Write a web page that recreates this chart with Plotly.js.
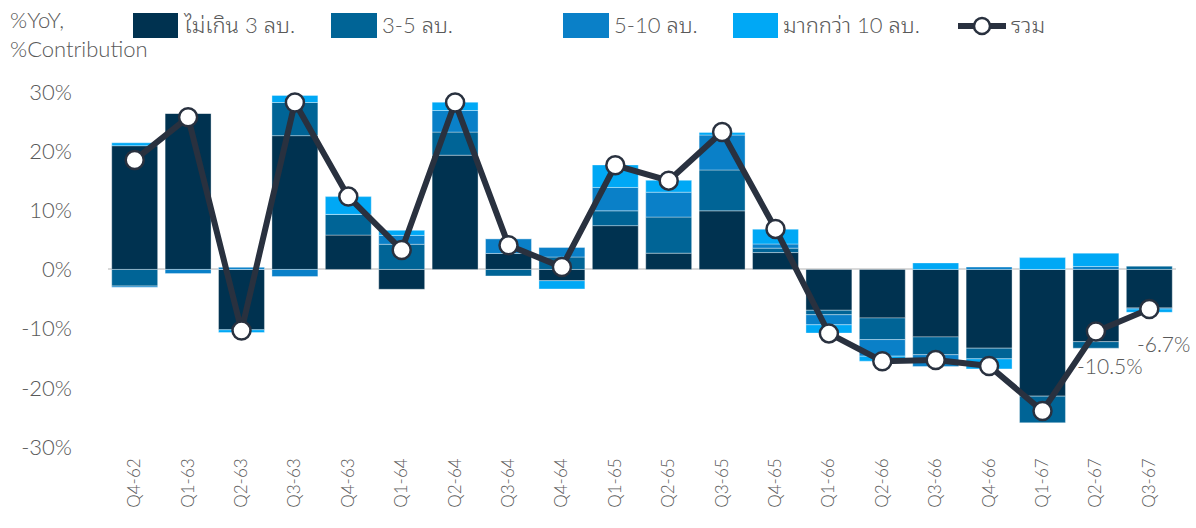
<!DOCTYPE html>
<html>
<head>
<meta charset="utf-8">
<script src="https://cdn.plot.ly/plotly-3.0.1.min.js"></script>
<style>html,body{margin:0;padding:0;background:#fff;}#chart{width:1196px;height:528px;}</style>
</head>
<body>
<div id="chart"></div>
<script>
// ---- data ----
const categories = ["Q4-62","Q1-63","Q2-63","Q3-63","Q4-63","Q1-64","Q2-64","Q3-64","Q4-64","Q1-65","Q2-65","Q3-65","Q4-65","Q1-66","Q2-66","Q3-66","Q4-66","Q1-67","Q2-67","Q3-67"];
const seriesNames = ["ไม่เกิน 3 ลบ.","3-5 ลบ.","5-10 ลบ.","มากกว่า 10 ลบ.","รวม"];
const upTo3   = [20.9, 26.4, -10.2, 22.6, 5.8, -3.35, 19.3, 2.7, -1.9, 7.4, 2.75, 9.9, 2.85, -6.9, -8.2, -11.4, -13.3, -21.4, -12.2, -6.5];
const from3to5 = [-2.8, 0, 0, 5.6, 3.5, 4.25, 3.9, -1.1, 2.1, 2.5, 6.1, 6.9, 0.75, -0.75, -3.65, -3.0, -1.8, -4.5, -1.1, 0.55];
const from5to10 = [-0.2, -0.7, 0.35, -1.2, 0, 1.5, 3.65, 2.5, 1.6, 3.95, 4.2, 5.9, 0.7, -1.7, -2.8, -2.0, 0.4, 0, 0.5, -0.2];
const over10  = [0.5, 0, -0.45, 1.2, 3.0, 0.85, 1.4, 0, -1.4, 3.8, 2.0, 0.45, 2.5, -1.4, -0.85, 1.1, -1.7, 2.0, 2.25, -0.55];
const total   = [18.5, 25.7, -10.3, 28.2, 12.3, 3.3, 28.2, 4.1, 0.4, 17.6, 15.0, 23.2, 6.85, -10.8, -15.5, -15.3, -16.3, -23.9, -10.5, -6.7];
const labelledIdx = [18, 19];
const yTicks = [-30, -20, -10, 0, 10, 20, 30];
const axisTitle = "%YoY,<br>%Contribution";

// ---- style ----
const colors = ["#003250", "#006496", "#0a80c8", "#00a8f5"];
const lineColor = "#29313f";
const textColor = "#595959";
const FAM = "Lato, 'Noto Sans Thai Looped', 'Noto Serif Thai', Norasi, Loma, 'Noto Sans Thai', 'Noto Sans', sans-serif";
const W = 1196, H = 528;
const M = {l: 108, r: 20, t: 80, b: 78};
const px = x => (x - M.l) / (W - M.l - M.r);
const py = y => (H - M.b - y) / (H - M.t - M.b);
const txtFont = (size) => ({family: FAM, size: size, color: textColor, weight: 300});

const barSeries = [upTo3, from3to5, from5to10, over10];
const traces = barSeries.map((vals, i) => ({
  type: "bar",
  name: seriesNames[i],
  x: categories,
  y: vals,
  marker: {color: colors[i], line: {color: "rgba(255,255,255,0.35)", width: 1}},
  showlegend: false,
  hoverinfo: "x+y+name"
}));
traces.push({
  type: "scatter",
  mode: "lines+markers",
  name: seriesNames[4],
  x: categories,
  y: total,
  line: {color: lineColor, width: 6},
  marker: {size: 18, color: "#ffffff", line: {color: lineColor, width: 2.5}},
  showlegend: false
});

const annotations = [{
  xref: "paper", yref: "paper", x: px(8), y: py(4), xanchor: "left", yanchor: "top",
  text: axisTitle, showarrow: false, align: "left",
  font: txtFont(22)
}];
labelledIdx.forEach(i => {
  annotations.push({
    x: categories[i], y: total[i], xref: "x", yref: "y",
    text: total[i].toFixed(1) + "%", showarrow: false,
    xshift: 14, yshift: -34,
    font: txtFont(21)
  });
});

// custom legend
const legendItems = [
  {sw: [133, 178], tx: 181},
  {sw: [331, 377], tx: 380},
  {sw: [563, 609], tx: 612},
  {sw: [733, 778], tx: 781}
];
const shapes = [];
legendItems.forEach((it, i) => {
  shapes.push({type: "rect", xref: "paper", yref: "paper",
    x0: px(it.sw[0]), x1: px(it.sw[1]), y0: py(38), y1: py(13),
    fillcolor: colors[i], line: {width: 0}});
  annotations.push({xref: "paper", yref: "paper", x: px(it.tx), y: py(25),
    xanchor: "left", yanchor: "middle", text: seriesNames[i], showarrow: false,
    font: txtFont(22)});
});
shapes.push({type: "line", xref: "paper", yref: "paper",
  x0: px(958), x1: px(1006), y0: py(26), y1: py(26),
  line: {color: lineColor, width: 6}});
shapes.push({type: "circle", xref: "paper", yref: "paper",
  x0: px(974), x1: px(990), y0: py(34), y1: py(18),
  fillcolor: "#ffffff", line: {color: lineColor, width: 2.5}});
annotations.push({xref: "paper", yref: "paper", x: px(1009), y: py(25),
  xanchor: "left", yanchor: "middle", text: seriesNames[4], showarrow: false,
  font: txtFont(22)});

const layout = {
  width: W, height: H,
  margin: Object.assign({autoexpand: false}, M),
  paper_bgcolor: "#ffffff", plot_bgcolor: "#ffffff",
  barmode: "relative",
  bargap: 0.14,
  showlegend: false,
  font: {family: FAM, color: textColor},
  xaxis: {
    type: "category",
    range: [-0.5, categories.length - 0.5],
    tickangle: -90,
    tickfont: txtFont(17),
    showgrid: false, showline: false, zeroline: false, ticks: "",
    ticklabelstandoff: 4,
    automargin: false,
    fixedrange: true
  },
  yaxis: {
    range: [-30.5, 32],
    tickvals: yTicks,
    ticktext: yTicks.map(v => v + "%"),
    tickfont: txtFont(22),
    showgrid: false, showline: false, ticks: "",
    zeroline: true, zerolinecolor: "#d9d9d9", zerolinewidth: 2,
    ticklabelstandoff: 35,
    automargin: false,
    fixedrange: true
  },
  shapes: shapes,
  annotations: annotations
};

Plotly.newPlot("chart", traces, layout, {displayModeBar: false, staticPlot: true});
</script>
</body>
</html>
